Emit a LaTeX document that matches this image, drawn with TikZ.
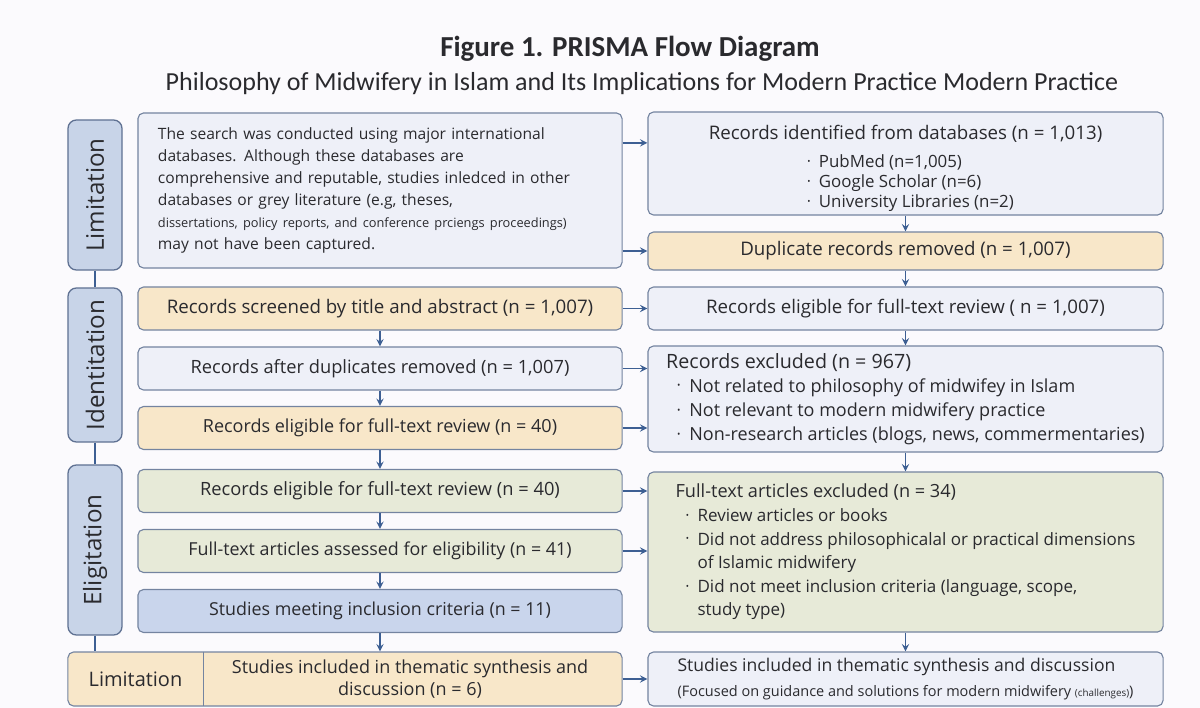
\documentclass[tikz,border=0pt]{standalone}
\usepackage{fontspec}
\setmainfont{Open Sans}
\newfontfamily\headfont{Carlito}
\usepackage{graphicx}
\usetikzlibrary{arrows, shapes.geometric, positioning}

\definecolor{pagebg}{HTML}{FBFAFD}
\definecolor{inkgray}{HTML}{2A2A2E}
\definecolor{edgeblue}{HTML}{7484A0}
\definecolor{arrowblue}{HTML}{3D5F93}
\definecolor{paleblue}{HTML}{EEF0F8}
\definecolor{paleorange}{HTML}{F8E7C9}
\definecolor{palegreen}{HTML}{E7EAD8}
\definecolor{midblue}{HTML}{C9D5EC}
\definecolor{phasefill}{HTML}{C8D4E8}
\definecolor{phaseedge}{HTML}{5F7192}

\newcommand{\bul}{\hspace*{0.6em}\raisebox{0.35ex}{\scalebox{0.5}{\textbullet}}\hspace{0.5em}}
\newcommand{\bulskip}{\phantom{\bul}}

\tikzstyle{box} = [rectangle, rounded corners=4pt, draw=edgeblue, line width=0.8pt, inner sep=0pt, text=inkgray, font=\fontsize{12.9}{15.6}\selectfont]
\tikzstyle{lbox} = [box, minimum width=12.1cm, minimum height=1.075cm]
\tikzstyle{rbox} = [box, minimum width=12.875cm]
\tikzstyle{phase} = [rectangle, rounded corners=6pt, draw=phaseedge, line width=0.9pt, fill=phasefill, rotate=90, minimum height=1.35cm, inner sep=0pt, text=inkgray, font=\fontsize{17.2}{20}\selectfont]
\tikzstyle{arrow} = [line width=1.3pt, ->, >=stealth, draw=arrowblue]
\tikzstyle{link} = [line width=1pt, draw=arrowblue]

\begin{document}
\begin{tikzpicture}[x=0.025cm, y=-0.025cm]
\fill [pagebg] (0,0) rectangle (1200,708);
\useasboundingbox (0,0) rectangle (1200,708);

\node [font=\headfont\bfseries\fontsize{20.6}{24}\selectfont, text=inkgray] (title) at (630,49) {Figure 1. PRISMA Flow Diagram};
\node [font=\headfont\fontsize{18.5}{21}\selectfont, text=inkgray] (subtitle) at (642,84) {Philosophy of Midwifery in Islam and Its Implications for Modern Practice Modern Practice};

% phases
\node [phase, minimum width=3.75cm] (limphase) at (95,195) {Limitation};
\node [phase, minimum width=3.85cm] (identphase) at (95,365) {Identitation};
\node [phase, minimum width=4.25cm] (eligphase) at (95,550) {Eligitation};

% left column
\node [lbox, fill=paleblue, minimum height=3.875cm, align=left, text width=11.1cm, font=\fontsize{11.1}{15.6}\selectfont] (search) at (380,190.5) {The search was conducted using major international\\
databases. Although these databases are\\
comprehensive and reputable, studies inledced in other\\
databases or grey literature (e.g, theses,\\
{\fontsize{9.1}{15.6}\selectfont dissertations, policy reports, and conference prciengs proceedings)}\\
may not have been captured.};
\node [lbox, fill=paleorange, font=\fontsize{13.3}{15.6}\selectfont] (screen) at (380,308.5) {Records screened by title and abstract\ (n = 1,007)};
\node [lbox, fill=paleblue, font=\fontsize{13}{15.6}\selectfont] (afterdup) at (380,368.5) {Records after duplicates removed (n = 1,007)};
\node [lbox, fill=paleorange, font=\fontsize{12.8}{15.6}\selectfont] (elig40) at (380,428) {Records eligible for full-text review (n = 40)};
\node [lbox, fill=palegreen, font=\fontsize{13}{15.6}\selectfont] (eligB) at (380,491) {Records eligible for full-text review (n = 40)};
\node [lbox, fill=palegreen, font=\fontsize{12.7}{15.6}\selectfont] (assessed) at (380,551) {Full-text articles assessed for eligibility (n = 41)};
\node [lbox, fill=midblue, font=\fontsize{12.7}{15.6}\selectfont] (meeting) at (380,611) {Studies meeting inclusion criteria (n = 11)};

\node [box, fill=paleorange, minimum width=13.85cm, minimum height=1.35cm] (bottom) at (345,679) {};
\node [minimum width=3.375cm, minimum height=1.35cm, inner sep=0pt, text=inkgray, font=\fontsize{14.2}{16}\selectfont] (limtag) at (135.5,679) {Limitation};
\draw [draw=edgeblue, line width=0.8pt] (limtag.north east) -- (limtag.south east);
\node [align=center, text=inkgray, font=\fontsize{12.8}{16}\selectfont] (synth) at (410,679) {Studies included in thematic synthesis and\\discussion (n = 6)};

% right column
\node [rbox, fill=paleblue, minimum height=2.575cm, align=center, font=\fontsize{13.3}{14.2}\selectfont] (ident) at (905.5,163.5) {\rule{0pt}{19pt}Records identified from databases (n = 1,013)\\[7pt]
{\fontsize{12}{14.2}\selectfont\begin{tabular}{@{}l@{}}\bul PubMed (n=1,005)\\ \bul Google Scholar (n=6)\\ \bul University Libraries (n=2)\end{tabular}}};
\node [rbox, fill=paleorange, minimum height=0.95cm, font=\fontsize{13.3}{15.6}\selectfont] (dup) at (905.5,251) {Duplicate records removed (n = 1,007)};
\node [rbox, fill=paleblue, minimum height=1.075cm, font=\fontsize{13.3}{15.6}\selectfont] (elig1) at (905.5,308.5) {Records eligible for full-text review (\ n = 1,007)};
\node [rbox, fill=paleblue, minimum height=2.65cm, align=left, font=\fontsize{12.8}{17.2}\selectfont] (excl) at (905.5,399) {{\fontsize{14}{17.2}\selectfont Records excluded (n = 967)}\\
\bul Not related to philosophy of midwifey in Islam\\
\bul Not relevant to modern midwifery practice\\
\bul Non-research articles (blogs, news, commermentaries)};
\node [rbox, fill=palegreen, minimum height=4cm, align=left, font=\fontsize{12.1}{16.8}\selectfont] (ftexcl) at (905.5,552) {{\fontsize{12.9}{16.8}\selectfont Full-text articles excluded (n = 34)}\\
\bul Review articles or books\\
\bul Did not address philosophicalal or practical dimensions\\
\bulskip of Islamic midwifery\\
\bul Did not meet inclusion criteria (language, scope,\\
\bulskip study type)};
\node [rbox, fill=paleblue, minimum height=1.35cm, align=left, font=\fontsize{12.5}{17.5}\selectfont] (final) at (905.5,679) {Studies included in thematic synthesis and discussion\\
{\fontsize{10.3}{12}\selectfont (Focused on guidance and solutions for modern midwifery {\fontsize{7}{8}\selectfont (challenges)})}};

% phase links
\draw [link] (limphase.west) -- (identphase.east);
\draw [link] (identphase.west) -- (eligphase.east);
\draw [link] (eligphase.west) -- (eligphase.west |- bottom.north);

% across
\coordinate (searchtop) at ([yshift=1.19cm]search.east);
\draw [arrow] (searchtop) -- (searchtop -| ident.west);
\draw [arrow] (search.east |- dup.west) -- (dup.west);
\draw [arrow] (screen.east) -- (elig1.west);
\draw [arrow] (afterdup.east) -- (afterdup.east -| excl.west);
\draw [arrow] (elig40.east) -- (elig40.east -| excl.west);
\draw [arrow] (eligB.east) -- (eligB.east -| ftexcl.west);
\draw [arrow] (assessed.east) -- (assessed.east -| ftexcl.west);
\draw [arrow] (bottom.east) -- (final.west);

% down
\draw [arrow] (ident.south) -- (dup.north);
\draw [arrow] (dup.south) -- (elig1.north);
\draw [arrow] (elig1.south) -- (excl.north);
\draw [arrow] (excl.south) -- (ftexcl.north);
\draw [arrow] (ftexcl.south) -- (final.north);
\draw [arrow] (screen.south) -- (afterdup.north);
\draw [arrow] (afterdup.south) -- (elig40.north);
\draw [arrow] (elig40.south) -- (eligB.north);
\draw [arrow] (eligB.south) -- (assessed.north);
\draw [arrow] (assessed.south) -- (meeting.north);
\draw [arrow] (meeting.south) -- (meeting.south |- bottom.north);
\end{tikzpicture}
\end{document}
